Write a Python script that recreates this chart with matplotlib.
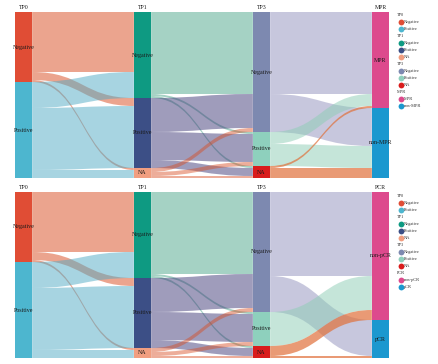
import matplotlib
matplotlib.use('Agg')
import matplotlib.pyplot as plt
from matplotlib.path import Path
from matplotlib.patches import PathPatch, Rectangle

plt.rcParams['font.family'] = ['Liberation Serif', 'DejaVu Serif']

# stratum levels per axis
tp0_levels = ['Negative', 'Positive']
tp1_levels = ['Negative', 'Positive', 'NA']
tp3_levels = ['Negative', 'Positive', 'NA']
mpr_levels = ['MPR', 'non-MPR']
pcr_levels = ['non-pCR', 'pCR']

# patient counts, TP0 -> TP1
f01_src = ['Negative', 'Negative', 'Negative', 'Positive', 'Positive', 'Positive']
f01_dst = ['Negative', 'Positive', 'NA', 'Negative', 'Positive', 'NA']
f01_n = [30, 4, 1, 13, 31, 4]

# TP1 -> TP3
f13_src = ['Negative', 'Negative', 'Negative', 'Positive', 'Positive', 'Positive', 'NA', 'NA', 'NA']
f13_dst = ['Negative', 'Positive', 'NA', 'Negative', 'Positive', 'NA', 'Negative', 'Positive', 'NA']
f13_n = [41, 1, 1, 17, 14, 4, 2, 2, 1]

# TP3 -> MPR
f3m_src = ['Negative', 'Negative', 'Positive', 'Positive', 'NA', 'NA']
f3m_dst = ['MPR', 'non-MPR', 'MPR', 'non-MPR', 'MPR', 'non-MPR']
f3m_n = [41, 19, 6, 11, 1, 5]

# TP3 -> PCR
f3p_src = ['Negative', 'Negative', 'Positive', 'NA', 'NA']
f3p_dst = ['non-pCR', 'pCR', 'non-pCR', 'non-pCR', 'pCR']
f3p_n = [42, 18, 17, 5, 1]

# colours
strata_colors = {
    'TP0': {'Negative': '#E04D35', 'Positive': '#4DB6CF'},
    'TP1': {'Negative': '#0E9A82', 'Positive': '#3C4F86', 'NA': '#F19E80'},
    'TP3': {'Negative': '#7D89B0', 'Positive': '#8ED0BD', 'NA': '#D91C1C'},
    'MPR': {'MPR': '#DD4A8D', 'non-MPR': '#1B98CF'},
    'PCR': {'non-pCR': '#DD4A8D', 'pCR': '#1B98CF'},
}
flow_colors = [
    {'Negative': ('#D84B1F', 0.5), 'Positive': ('#51ABC5', 0.5)},
    {'Negative': ('#4DA78B', 0.5), 'Positive': ('#413B79', 0.5), 'NA': ('#D84B1F', 0.45)},
    {'Negative': ('#9191BD', 0.5), 'Positive': ('#8DCDB5', 0.5), 'NA': ('#E0703A', 0.7)},
]

W = 0.145          # stratum width (axis spacing = 1)
X0 = 1 - 23.5 / 119
X1 = 1 + (439 - 23.5) / 119


def stack(levels, names, counts):
    tot = {l: 0 for l in levels}
    for nm, c in zip(names, counts):
        tot[nm] += c
    start, pos = {}, 0
    for l in levels:
        start[l] = pos
        pos += tot[l]
    return start, tot


def draw_flows(ax, i, src_lv, dst_lv, src, dst, n, fcol):
    s_start, _ = stack(src_lv, src, n)
    d_start, _ = stack(dst_lv, dst, n)
    idx = list(range(len(n)))
    s_order = sorted(idx, key=lambda k: (src_lv.index(src[k]), dst_lv.index(dst[k])))
    d_order = sorted(idx, key=lambda k: (dst_lv.index(dst[k]), src_lv.index(src[k])))
    s_pos, d_pos = {}, {}
    cur = dict(s_start)
    for k in s_order:
        s_pos[k] = cur[src[k]]
        cur[src[k]] += n[k]
    cur = dict(d_start)
    for k in d_order:
        d_pos[k] = cur[dst[k]]
        cur[dst[k]] += n[k]
    xa, xb = i + W / 2, i + 1 - W / 2
    xm = (xa + xb) / 2
    for k in idx:
        if n[k] == 0:
            continue
        ys, yd = s_pos[k], d_pos[k]
        ys2, yd2 = ys + n[k], yd + n[k]
        verts = [(xa, ys), (xm, ys), (xm, yd), (xb, yd),
                 (xb, yd2), (xm, yd2), (xm, ys2), (xa, ys2), (xa, ys)]
        codes = [Path.MOVETO, Path.CURVE4, Path.CURVE4, Path.CURVE4,
                 Path.LINETO, Path.CURVE4, Path.CURVE4, Path.CURVE4, Path.CLOSEPOLY]
        c, a = fcol[src[k]]
        ax.add_patch(PathPatch(Path(verts, codes), facecolor=c, alpha=a,
                               edgecolor='none', zorder=1))


def draw_panel(ax, axis_names, levels, segs, label_off):
    for j, (src, dst, n) in enumerate(segs):
        draw_flows(ax, j + 1, levels[j], levels[j + 1], src, dst, n, flow_colors[j])
    for j, name in enumerate(axis_names):
        if j < len(segs):
            start, tot = stack(levels[j], segs[j][0], segs[j][2])
        else:
            start, tot = stack(levels[j], segs[j - 1][1], segs[j - 1][2])
        for l in levels[j]:
            if tot[l] == 0:
                continue
            ax.add_patch(Rectangle((j + 1 - W / 2, start[l]), W, tot[l],
                                   facecolor=strata_colors[name][l], edgecolor='none', zorder=2))
            ax.text(j + 1, start[l] + tot[l] / 2, l, ha='center', va='center',
                    fontsize=4.3, color='#1a1a1a', zorder=3)
        ax.annotate(name, (j + 1, 0), xytext=(0, label_off), textcoords='offset points',
                    ha='center', va='center', fontsize=4.2, color='#1a1a1a',
                    annotation_clip=False)
    total = sum(segs[0][2])
    ax.set_xlim(X0, X1)
    ax.set_ylim(total, 0)
    ax.axis('off')


fig = plt.figure(figsize=(4.39, 3.64), dpi=100)

ax_top = fig.add_axes([0, 1 - 178 / 364, 1, 166 / 364])
draw_panel(ax_top, ['TP0', 'TP1', 'TP3', 'MPR'],
           [tp0_levels, tp1_levels, tp3_levels, mpr_levels],
           [(f01_src, f01_dst, f01_n), (f13_src, f13_dst, f13_n), (f3m_src, f3m_dst, f3m_n)], 3.6)

ax_bot = fig.add_axes([0, 1 - 358 / 364, 1, 166 / 364])
draw_panel(ax_bot, ['TP0', 'TP1', 'TP3', 'PCR'],
           [tp0_levels, tp1_levels, tp3_levels, pcr_levels],
           [(f01_src, f01_dst, f01_n), (f13_src, f13_dst, f13_n), (f3p_src, f3p_dst, f3p_n)], 3.0)

# legends (layout in pixel coordinates)
ax_leg = fig.add_axes([0, 0, 1, 1])
ax_leg.set_xlim(0, 439)
ax_leg.set_ylim(364, 0)
ax_leg.axis('off')


def draw_legend(y0, groups):
    y = y0
    for name, levels in groups:
        ax_leg.text(397, y, name, ha='left', va='center', fontsize=3.2, color='#333333')
        y += 7
        for l in levels:
            ax_leg.plot(400.7, y, 'o', color=strata_colors[name][l], markersize=4.2, markeredgewidth=0)
            ax_leg.text(403.5, y, l, ha='left', va='center', fontsize=3.2, color='#333333')
            y += 7


draw_legend(15, [('TP0', tp0_levels), ('TP1', tp1_levels), ('TP3', tp3_levels), ('MPR', mpr_levels)])
draw_legend(195.7, [('TP0', tp0_levels), ('TP1', tp1_levels), ('TP3', tp3_levels), ('PCR', pcr_levels)])

fig.savefig('out.png', dpi=100)
